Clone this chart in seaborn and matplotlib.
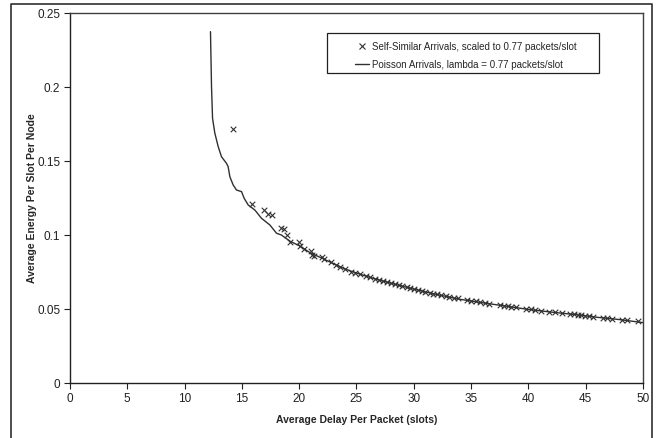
import matplotlib
matplotlib.use("Agg")
import matplotlib.pyplot as plt
from matplotlib.lines import Line2D
from matplotlib.patches import Rectangle
import seaborn as sns
import pandas as pd

# Self-similar traffic, scaled to 0.77 packets/slot
ss_delay = [14.25, 15.85, 16.95, 17.3, 17.6, 18.4, 18.65, 18.9, 19.2, 20.0,
            20.1, 20.4, 21.0, 21.1, 21.3, 21.95, 22.15, 22.8, 23.2, 23.55,
            24.0, 24.5, 24.9, 25.3, 25.85, 26.2, 26.6, 27.0, 27.3, 27.7,
            28.0, 28.4, 28.7, 29.0, 29.4, 29.7, 30.0, 30.4, 30.7, 31.0,
            31.4, 31.7, 32.0, 32.4, 32.8, 33.1, 33.5, 33.9, 34.6, 35.0,
            35.4, 35.8, 36.2, 36.6, 37.5, 37.9, 38.2, 38.5, 38.9, 39.8,
            40.2, 40.6, 41.1, 41.8, 42.3, 42.9, 43.6, 44.0, 44.3, 44.6,
            44.9, 45.3, 45.6, 46.5, 46.9, 47.3, 48.2, 48.6, 49.6]
ss_energy = [0.1716, 0.1212, 0.1171, 0.1145, 0.1137, 0.1047, 0.1041, 0.1002, 0.0957, 0.0952,
             0.0925, 0.0905, 0.0896, 0.0870, 0.0863, 0.0856, 0.0838, 0.0822, 0.0800, 0.0784,
             0.0770, 0.0755, 0.0747, 0.0738, 0.0725, 0.0716, 0.0706, 0.0697, 0.0690, 0.0682,
             0.0676, 0.0669, 0.0663, 0.0657, 0.0649, 0.0643, 0.0637, 0.0630, 0.0624, 0.0619,
             0.0612, 0.0606, 0.0601, 0.0595, 0.0589, 0.0584, 0.0578, 0.0573, 0.0563, 0.0558,
             0.0553, 0.0548, 0.0543, 0.0538, 0.0528, 0.0524, 0.0521, 0.0517, 0.0513, 0.0504,
             0.0500, 0.0496, 0.0491, 0.0485, 0.0480, 0.0475, 0.0469, 0.0465, 0.0462, 0.0459,
             0.0456, 0.0452, 0.0449, 0.0442, 0.0439, 0.0436, 0.0429, 0.0426, 0.0419]

# Poisson traffic, lambda = 0.77 packets/slot
po_delay = [12.26, 12.35, 12.44, 12.64, 12.93, 13.22, 13.66, 13.8, 13.95, 14.24,
            14.53, 14.97, 15.2, 15.55, 16.13, 16.71, 17.44, 18.02, 18.45, 19.2,
            20.0, 21.0, 22.0, 23.0, 24.0, 25.0, 26.0, 27.0, 28.0, 29.0,
            30.0, 32.0, 34.0, 36.0, 38.0, 40.0, 42.0, 44.0, 46.0, 48.0, 50.0]
po_energy = [0.2376, 0.2004, 0.1790, 0.1690, 0.1600, 0.1531, 0.1486, 0.1464, 0.1396, 0.1340,
             0.1306, 0.1295, 0.1250, 0.1205, 0.1171, 0.1115, 0.1070, 0.1014, 0.1002, 0.0960,
             0.0930, 0.0880, 0.0845, 0.0808, 0.0772, 0.0745, 0.0720, 0.0697, 0.0676, 0.0656,
             0.0636, 0.0600, 0.0568, 0.0544, 0.0522, 0.0499, 0.0481, 0.0465, 0.0446, 0.0430, 0.0410]

x_ticks = [0, 5, 10, 15, 20, 25, 30, 35, 40, 45, 50]
y_ticks = [0, 0.05, 0.1, 0.15, 0.2, 0.25]
y_tick_labels = ["0", "0.05", "0.1", "0.15", "0.2", "0.25"]

ss_label = "Self-Similar Arrivals, scaled to 0.77 packets/slot"
po_label = "Poisson Arrivals, lambda = 0.77 packets/slot"

sns.set_theme(style="white")
plt.rcParams["font.family"] = ["Liberation Sans", "DejaVu Sans"]

ss_df = pd.DataFrame({"delay": ss_delay, "energy": ss_energy})
po_df = pd.DataFrame({"delay": po_delay, "energy": po_energy})

fig = plt.figure(figsize=(6.59, 4.38), dpi=100)
ax = fig.add_axes([0.1062, 0.1249, 0.8695, 0.8447])

sns.lineplot(data=po_df, x="delay", y="energy", ax=ax, sort=False,
             color="#303030", linewidth=1.0, estimator=None)
sns.scatterplot(data=ss_df, x="delay", y="energy", ax=ax, marker="x",
                color="#303030", s=16, linewidth=0.8)

ax.set_xlim(0, 50)
ax.set_ylim(0, 0.25)
ax.set_xticks(x_ticks)
ax.set_xticklabels([str(t) for t in x_ticks])
ax.set_yticks(y_ticks)
ax.set_yticklabels(y_tick_labels)
ax.tick_params(axis="both", direction="out", length=4, width=0.8,
               labelsize=8.5, colors="#202020", pad=3, bottom=True, left=True)

ax.set_xlabel("Average Delay Per Packet (slots)", fontsize=7.5,
              fontweight="bold", labelpad=7)
ax.set_ylabel("Average Energy Per Slot Per Node", fontsize=7.5,
              fontweight="bold", labelpad=0)

for side in ["left", "bottom"]:
    ax.spines[side].set_color("#202020")
    ax.spines[side].set_linewidth(1.0)
for side in ["top", "right"]:
    ax.spines[side].set_color("#404040")
    ax.spines[side].set_linewidth(1.0)
ax.set_facecolor("white")

# legend box with its entries
ax.add_patch(Rectangle((0.4485, 0.8386), 0.4745, 0.1082, transform=ax.transAxes,
                       facecolor="white", edgecolor="#202020", linewidth=0.9,
                       zorder=4))
handles = [Line2D([], [], linestyle="none", marker="x", color="#303030",
                  markersize=4, markeredgewidth=0.8),
           Line2D([], [], color="#303030", linewidth=1.0)]
ax.legend(handles, [ss_label, po_label], loc="upper left",
          bbox_to_anchor=(0.482, 0.9468), frameon=False, fontsize=7,
          handlelength=1.4, handletextpad=0.4, labelspacing=0.8,
          borderpad=0.4).set_zorder(5)

# outer frame around the chart
fig.add_artist(Line2D([0.0167, 0.0167, 0.9894, 0.9894], [0.0, 0.9909, 0.9909, 0.0],
                      transform=fig.transFigure, color="#303030", linewidth=1.2))

fig.savefig("out.png", dpi=100)
